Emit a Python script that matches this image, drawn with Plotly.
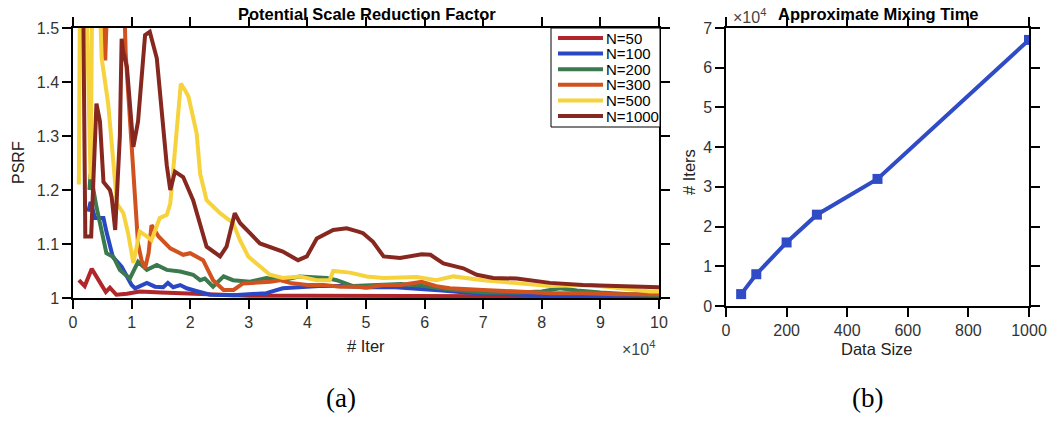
import plotly.graph_objects as go

W, H = 1054, 424

# ---------------- data ----------------
# Left panel: PSRF vs iterations (x in units of 1e4 iterations)
series_names = ["N=50", "N=100", "N=200", "N=300", "N=500", "N=1000"]

n50_x = [0.1, 0.2, 0.32, 0.43, 0.56, 0.63, 0.74, 0.92, 1.14, 1.5, 2.0, 2.5, 3.0, 4.0, 5.0, 6.0, 7.0, 8.0, 9.0, 10.0]
n50_y = [1.033, 1.022, 1.054, 1.033, 1.011, 1.019, 1.006, 1.008, 1.012, 1.010, 1.008, 1.005, 1.004, 1.004, 1.004, 1.004, 1.003, 1.003, 1.003, 1.003]

n100_x = [0.26, 0.3, 0.375, 0.52, 0.57, 0.68, 0.83, 1.0, 1.06, 1.26, 1.4, 1.54, 1.62, 1.71, 1.83, 1.94, 2.1, 2.34, 2.74,
          3.0, 3.3, 3.58, 3.87, 4.2, 4.6, 5.0, 5.5, 5.87, 6.3, 6.7, 7.17, 7.6, 8.2, 9.0, 10.0]
n100_y = [1.16, 1.178, 1.148, 1.148, 1.123, 1.076, 1.058, 1.024, 1.018, 1.028, 1.021, 1.020, 1.028, 1.020, 1.024, 1.018, 1.013, 1.006, 1.005,
          1.006, 1.009, 1.018, 1.020, 1.022, 1.022, 1.020, 1.020, 1.018, 1.014, 1.010, 1.008, 1.006, 1.004, 1.003, 1.002]

n200_x = [0.28, 0.3, 0.4, 0.49, 0.57, 0.69, 0.8, 0.97, 1.11, 1.26, 1.43, 1.6, 1.83, 2.05, 2.17, 2.25, 2.39, 2.57, 2.73,
          3.02, 3.3, 3.58, 3.87, 4.33, 4.5, 4.78, 5.2, 5.6, 6.0, 6.4, 7.0, 7.6, 8.0, 8.31, 8.6, 9.0, 9.5, 10.0]
n200_y = [1.20, 1.23, 1.169, 1.123, 1.083, 1.076, 1.052, 1.036, 1.067, 1.052, 1.061, 1.052, 1.049, 1.043, 1.033, 1.036, 1.021, 1.040, 1.033,
          1.030, 1.037, 1.033, 1.040, 1.037, 1.033, 1.022, 1.024, 1.026, 1.022, 1.016, 1.010, 1.010, 1.012, 1.018, 1.014, 1.010, 1.007, 1.005]

n300_x = [0.5, 0.55, 0.6, 0.86, 0.9, 1.0, 1.06, 1.11, 1.17, 1.23, 1.29, 1.34, 1.46, 1.66, 1.88, 2.0, 2.22, 2.39, 2.57, 2.74,
          2.9, 3.14, 3.37, 3.53, 3.7, 4.0, 4.28, 4.56, 4.84, 5.0, 5.3, 5.6, 5.95, 6.2, 6.43, 7.0, 7.57, 8.14, 8.7, 9.27, 10.0]
n300_y = [1.6, 1.44, 1.6, 1.6, 1.45, 1.27, 1.16, 1.10, 1.07, 1.055, 1.083, 1.135, 1.114, 1.092, 1.080, 1.083, 1.070, 1.033, 1.015, 1.015,
          1.027, 1.028, 1.030, 1.033, 1.028, 1.024, 1.024, 1.021, 1.021, 1.019, 1.024, 1.024, 1.030, 1.022, 1.018, 1.015, 1.012, 1.009, 1.009, 1.007, 1.007]

n500_x = [0.1, 0.12, 0.22, 0.3, 0.33, 0.44, 0.49, 0.6, 0.69, 0.75, 0.86, 0.94, 1.03, 1.14, 1.26, 1.34, 1.48, 1.6, 1.66, 1.77,
          1.84, 1.91, 1.97, 2.11, 2.17, 2.28, 2.51, 2.73, 2.85, 2.99, 3.19, 3.36, 3.58, 3.87, 4.16, 4.38, 4.44, 4.73, 5.01, 5.3,
          5.87, 6.2, 6.49, 7.0, 7.51, 8.14, 8.82, 9.28, 9.85, 10.0]
n500_y = [1.21, 1.6, 1.6, 1.22, 1.6, 1.6, 1.444, 1.36, 1.25, 1.175, 1.157, 1.12, 1.065, 1.123, 1.114, 1.107, 1.148, 1.154, 1.175, 1.30,
          1.397, 1.385, 1.373, 1.305, 1.23, 1.181, 1.157, 1.139, 1.107, 1.077, 1.058, 1.043, 1.037, 1.040, 1.033, 1.033, 1.050, 1.047, 1.040, 1.037,
          1.039, 1.033, 1.040, 1.033, 1.028, 1.022, 1.024, 1.018, 1.012, 1.012]

n1000_x = [0.17, 0.21, 0.31, 0.36, 0.40, 0.46, 0.51, 0.52, 0.63, 0.66, 0.72, 0.75, 0.8, 0.83, 0.85, 0.92, 1.03, 1.11, 1.23, 1.31,
           1.43, 1.6, 1.66, 1.74, 1.88, 2.05, 2.17, 2.28, 2.51, 2.62, 2.76, 2.85, 3.02, 3.19, 3.58, 3.84, 3.99, 4.16, 4.44, 4.67,
           4.87, 4.95, 5.12, 5.3, 5.58, 5.95, 6.1, 6.32, 6.66, 6.89, 7.17, 7.57, 8.14, 8.7, 9.27, 10.0]
n1000_y = [1.6, 1.114, 1.114, 1.25, 1.36, 1.327, 1.246, 1.215, 1.20, 1.187, 1.126, 1.181, 1.30, 1.48, 1.46, 1.428, 1.28, 1.327, 1.487, 1.493,
           1.444, 1.246, 1.20, 1.234, 1.224, 1.181, 1.139, 1.095, 1.077, 1.095, 1.157, 1.139, 1.120, 1.101, 1.086, 1.070, 1.077, 1.110, 1.126, 1.129,
           1.123, 1.120, 1.104, 1.077, 1.074, 1.081, 1.080, 1.064, 1.055, 1.043, 1.037, 1.036, 1.028, 1.024, 1.022, 1.020]

series_x = [n50_x, n100_x, n200_x, n300_x, n500_x, n1000_x]
series_y = [n50_y, n100_y, n200_y, n300_y, n500_y, n1000_y]
series_colors = ["#b1262b", "#2a47c4", "#3b7a4e", "#d2521f", "#f6d23c", "#86281f"]

# Right panel: approximate mixing time (y in units of 1e4 iterations)
data_size = [50, 100, 200, 300, 500, 1000]
mix_iters = [0.3, 0.8, 1.6, 2.3, 3.2, 6.7]

left_xticks = [0, 1, 2, 3, 4, 5, 6, 7, 8, 9, 10]
left_yticks = [1.0, 1.1, 1.2, 1.3, 1.4, 1.5]
left_ytext = ["1", "1.1", "1.2", "1.3", "1.4", "1.5"]
right_xticks = [0, 200, 400, 600, 800, 1000]
right_yticks = [0, 1, 2, 3, 4, 5, 6, 7]

# ---------------- figure ----------------
def px(x):
    return x / W

def py(y):
    return 1 - y / H

fig = go.Figure()

for name, xs, ys, c in zip(series_names, series_x, series_y, series_colors):
    fig.add_trace(go.Scatter(x=xs, y=ys, name=name, mode="lines",
                             line=dict(color=c, width=4),
                             xaxis="x", yaxis="y", showlegend=False))

fig.add_trace(go.Scatter(x=data_size, y=mix_iters, mode="lines+markers",
                         line=dict(color="#2f4bc6", width=4),
                         marker=dict(symbol="square", size=10, color="#2f4bc6"),
                         showlegend=False, xaxis="x2", yaxis="y2"))

FONT = "Liberation Sans, Arial, sans-serif"
axis_common = dict(showline=True, linecolor="black", linewidth=1.5, mirror="allticks",
                   ticks="outside", ticklen=9, tickwidth=1.5, tickcolor="black",
                   showgrid=False, zeroline=False, automargin=False,
                   tickfont=dict(family=FONT, size=16, color="#333"))

fig.update_layout(
    width=W, height=H,
    margin=dict(l=0, r=0, t=0, b=0),
    paper_bgcolor="white", plot_bgcolor="white",
    font=dict(family=FONT, color="#222"),
    xaxis=dict(domain=[px(73), px(659)], range=[0, 10], tickvals=left_xticks,
               ticktext=[str(v) for v in left_xticks], anchor="y", **axis_common),
    yaxis=dict(domain=[py(298), py(28)], range=[1.0, 1.5], tickvals=left_yticks,
               ticktext=left_ytext, anchor="x", **axis_common),
    xaxis2=dict(domain=[px(726), px(1029)], range=[0, 1000], tickvals=right_xticks,
                anchor="y2", **axis_common),
    yaxis2=dict(domain=[py(306), py(28)], range=[0, 7], tickvals=right_yticks,
                anchor="x2", **axis_common),
    showlegend=False,
)

# legend box (drawn in paper coordinates, from the series names/colours)
shapes = [dict(type="rect", xref="paper", yref="paper",
               x0=px(551), x1=px(660), y0=py(127), y1=py(28),
               line=dict(color="black", width=1), fillcolor="white", layer="above")]
ann = []
for i, (name, c) in enumerate(zip(series_names, series_colors)):
    yy = 38 + 15.6 * i
    shapes.append(dict(type="line", xref="paper", yref="paper",
                       x0=px(558), x1=px(603), y0=py(yy), y1=py(yy),
                       line=dict(color=c, width=4), layer="above"))
    ann.append(dict(x=px(604), y=py(yy), text=name, xanchor="left",
                    font=dict(size=15, color="black")))

ann += [
    dict(x=px(367), y=py(14), text="<b>Potential Scale Reduction Factor</b>", font=dict(size=16.5, color="black")),
    dict(x=px(878), y=py(14), text="<b>Approximate Mixing Time</b>", font=dict(size=16.5, color="black")),
    dict(x=px(749), y=py(16), text="×10<sup>4</sup>", font=dict(size=16, color="#444")),
    dict(x=px(639), y=py(348), text="×10<sup>4</sup>", font=dict(size=16, color="#444")),
    dict(x=px(366), y=py(346), text="# Iter", font=dict(size=16.5, color="#222")),
    dict(x=px(877), y=py(349), text="Data Size", font=dict(size=16.5, color="#222")),
    dict(x=px(18), y=py(163), text="PSRF", textangle=-90, font=dict(size=16, color="#222")),
    dict(x=px(689), y=py(172), text="# Iters", textangle=-90, font=dict(size=16.5, color="#222")),
    dict(x=px(341), y=py(398), text="(a)", font=dict(family="Liberation Serif, Times New Roman, serif", size=27, color="black")),
    dict(x=px(867), y=py(398), text="(b)", font=dict(family="Liberation Serif, Times New Roman, serif", size=27, color="black")),
]
for a in ann:
    a.update(xref="paper", yref="paper", showarrow=False, yanchor="middle")
    a.setdefault("xanchor", "center")
    a["font"].setdefault("family", FONT)
fig.update_layout(annotations=ann, shapes=shapes)

fig.write_html("out.html")
